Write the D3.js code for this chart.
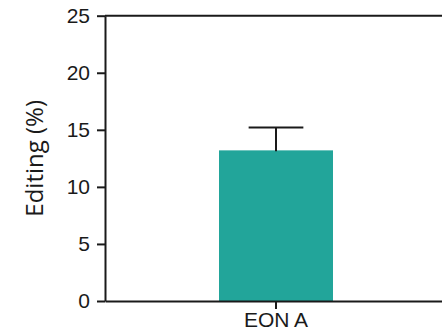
<!DOCTYPE html>
<html>
<head>
<meta charset="utf-8">
<script src="https://cdn.jsdelivr.net/npm/d3@7"></script>
<style>
  body { margin: 0; background: #fff; }
  svg { display: block; }
</style>
</head>
<body>
<div id="chart"></div>
<script>
// data
var categories = ["EON A"];
var values = [13.2];
var errors = [2.0];
var yTicks = [0, 5, 10, 15, 20, 25];

// layout (note: "top" is reserved on window, so plot edges get their own names)
var w = 442, h = 334;
var plotLeft = 105, plotTop = 15.7, plotRight = 447, plotBottom = 301;
var ink = "#1a1a1a";

var svg = d3.select("#chart").append("svg")
  .attr("width", w)
  .attr("height", h);

var x = d3.scaleBand().domain(categories).range([plotLeft, plotRight]).padding(0.5);
var y = d3.scaleLinear().domain([0, 25]).range([plotBottom, plotTop]);

// bars
svg.selectAll("rect.bar")
  .data(categories)
  .enter()
  .append("rect")
  .attr("class", "bar")
  .attr("x", function(d) { return x(d); })
  .attr("y", function(d, i) { return y(values[i]); })
  .attr("width", x.bandwidth())
  .attr("height", function(d, i) { return y(0) - y(values[i]); })
  .attr("fill", "#22a59a");

// error bars (upper only)
var capHalf = x.bandwidth() * 0.24;
categories.forEach(function(c, i) {
  var cx = x(c) + x.bandwidth() / 2;
  svg.append("line")
    .attr("x1", cx).attr("x2", cx)
    .attr("y1", y(values[i]) + 1).attr("y2", y(values[i] + errors[i]))
    .attr("stroke", ink).attr("stroke-width", 2);
  svg.append("line")
    .attr("x1", cx - capHalf).attr("x2", cx + capHalf)
    .attr("y1", y(values[i] + errors[i])).attr("y2", y(values[i] + errors[i]))
    .attr("stroke", ink).attr("stroke-width", 2);
});

// y axis
var yAxis = svg.append("g")
  .attr("transform", "translate(" + plotLeft + ",0)")
  .call(d3.axisLeft(y).tickValues(yTicks).tickSize(8).tickPadding(7).tickSizeOuter(0));
yAxis.selectAll("text")
  .attr("font-family", "Liberation Sans, Arial, sans-serif")
  .attr("font-size", "21px")
  .attr("fill", ink);

// x axis
var xAxis = svg.append("g")
  .attr("transform", "translate(0," + plotBottom + ")")
  .call(d3.axisBottom(x).tickSize(8).tickPadding(3).tickSizeOuter(0));
xAxis.selectAll("text")
  .attr("font-family", "Liberation Sans, Arial, sans-serif")
  .attr("font-size", "21px")
  .attr("fill", ink);

svg.selectAll(".domain, .tick line")
  .attr("stroke", ink)
  .attr("stroke-width", 2);

// top frame line
svg.append("line")
  .attr("x1", plotLeft).attr("x2", plotRight)
  .attr("y1", y(25)).attr("y2", y(25))
  .attr("stroke", ink).attr("stroke-width", 2);

// y title
svg.append("text")
  .attr("transform", "translate(43," + ((plotTop + plotBottom) / 2) + ") rotate(-90)")
  .attr("text-anchor", "middle")
  .attr("font-family", "Open Sans, sans-serif")
  .attr("font-size", "24px")
  .attr("fill", ink)
  .text("Editing (%)");
</script>
</body>
</html>
